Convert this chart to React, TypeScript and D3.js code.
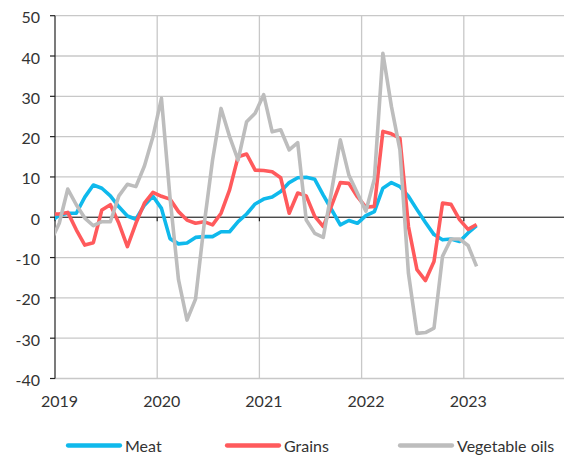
import React from "react";
import * as d3 from "d3";

// Monthly data, Dec 2018 .. Feb 2023 (first point clipped at the axis)
const startMonth = -1; // Dec 2018 relative to Jan 2019
const meat = [
  -1, 0.5, 1, 1, 5, 8, 7.2, 5.3, 2.6, 0.3, -0.5, 3, 5.2,
  2.2, -5.3, -6.6, -6.4, -5, -4.8, -4.8, -3.6, -3.6, -1.1, 0.8, 3.3,
  4.5, 5, 6.4, 8.6, 9.8, 9.9, 9.4, 5.5, 1.8, -1.9, -0.8, -1.5,
  0.4, 1.4, 7.2, 8.6, 7.6, 5.2, 1.9, -1.3, -4.3, -5.6, -5.4, -6,
  -3.9, -2.1,
];
const grains = [
  0.8, 0.8, 1.2, -3.1, -6.9, -6.3, 1.8, 3.1, -1.5, -7.3, -1.5, 3.5, 6.2,
  5.2, 4.5, 1.4, -0.7, -1.5, -1.1, -1.9, 1, 6.8, 15, 15.7, 11.7,
  11.6, 11.3, 9.8, 1, 6, 5.3, 0.2, -2.3, 3, 8.6, 8.4, 5.1,
  2.5, 2.7, 21.3, 20.7, 19.6, -2.3, -13, -15.7, -11, 3.5, 3.2, -0.6,
  -3, -1.8,
];
const vegOils = [
  -6, -1.5, 7, 3.1, -0.2, -2.1, -1.1, -1.1, 5.3, 8.2, 7.6, 12.7, 20,
  29.5, 5, -15.5, -25.5, -20.3, -2, 14.2, 27, 20, 14.2, 23.7, 25.8,
  30.4, 21.2, 21.7, 16.7, 18.5, -0.7, -4, -5, 6.8, 19.2, 10.5, 6,
  1.5, 9.5, 40.7, 27.5, 16.7, -13.9, -28.8, -28.6, -27.5, -9.7, -5.4, -5.4,
  -7, -12.2,
];
const yearLabels = ["2019", "2020", "2021", "2022", "2023"];
const yTicks = [50, 40, 30, 20, 10, 0, -10, -20, -30, -40];
const seriesNames = ["Meat", "Grains", "Vegetable oils"];
const seriesColors = ["#0fb9ec", "#ff5a5c", "#bdbdbd"];

const W = 564;
const H = 460;
const left = 55;
const right = 566;
const top = 15.7;
const bottom = 378.5;
const FONT = "Lato, 'Open Sans', sans-serif";
const TEXT = "#333333";
const GRID = "#c8c8c8";

export default function App() {
  const x = d3.scaleLinear().domain([0, 60]).range([left, right]);
  const y = d3.scaleLinear().domain([-40, 50]).range([bottom, top]);
  const series = [meat, grains, vegOils];
  const line = d3
    .line<number>()
    .x((_, i) => x(startMonth + i + 0.5))
    .y((d) => y(d));

  const legendX = [68, 227, 400];

  return (
    <svg
      width={W}
      height={H}
      style={{ position: "absolute", left: 0, top: 0, background: "#fff" }}
    >
      <defs>
        <clipPath id="plot">
          <rect x={left} y={top - 5} width={right - left} height={bottom - top + 10} />
        </clipPath>
      </defs>
      {/* horizontal gridlines */}
      {yTicks.map((t) => (
        <line
          key={"h" + t}
          x1={left}
          x2={right}
          y1={y(t)}
          y2={y(t)}
          stroke={GRID}
          strokeWidth={1.3}
        />
      ))}
      {/* vertical gridlines */}
      {yearLabels.slice(1).map((_, i) => (
        <line
          key={"v" + i}
          x1={x((i + 1) * 12)}
          x2={x((i + 1) * 12)}
          y1={top}
          y2={bottom}
          stroke={GRID}
          strokeWidth={1.3}
        />
      ))}
      {/* zero line */}
      <line x1={left} x2={right} y1={y(0)} y2={y(0)} stroke="#222" strokeWidth={1.2} />
      {/* x tick marks on zero line */}
      {yearLabels.map((_, i) => (
        <line
          key={"xt" + i}
          x1={x(i * 12)}
          x2={x(i * 12)}
          y1={y(0)}
          y2={y(0) + 4}
          stroke="#222"
          strokeWidth={1.2}
        />
      ))}
      {/* y axis */}
      <line x1={left} x2={left} y1={top} y2={bottom} stroke="#222" strokeWidth={1.2} />
      {yTicks.map((t) => (
        <line
          key={"yt" + t}
          x1={left - 5}
          x2={left}
          y1={y(t)}
          y2={y(t)}
          stroke="#222"
          strokeWidth={1.2}
        />
      ))}
      {yTicks.map((t) => (
        <text
          key={"yl" + t}
          x={40}
          y={y(t) + 7.5}
          textAnchor="end"
          fontFamily={FONT}
          fontSize={16}
          fill={TEXT}
        >
          {t}
        </text>
      ))}
      {yearLabels.map((lab, i) => (
        <text
          key={"xl" + lab}
          x={x(i * 12) + 4.5}
          y={407}
          textAnchor="middle"
          fontFamily={FONT}
          fontSize={16}
          fill={TEXT}
        >
          {lab}
        </text>
      ))}
      {/* data lines */}
      <g clipPath="url(#plot)">
        {series.map((s, k) => (
          <path
            key={"s" + k}
            d={line(s) || ""}
            fill="none"
            stroke={seriesColors[k]}
            strokeWidth={3.6}
            strokeLinejoin="round"
          />
        ))}
      </g>
      {/* legend */}
      {seriesNames.map((name, k) => (
        <g key={"lg" + k}>
          <line
            x1={legendX[k]}
            x2={legendX[k] + 52}
            y1={445.5}
            y2={445.5}
            stroke={seriesColors[k]}
            strokeWidth={4.3}
            strokeLinecap="round"
          />
          <text
            x={legendX[k] + 57}
            y={452}
            fontFamily={FONT}
            fontSize={16}
            fill={TEXT}
          >
            {name}
          </text>
        </g>
      ))}
    </svg>
  );
}
